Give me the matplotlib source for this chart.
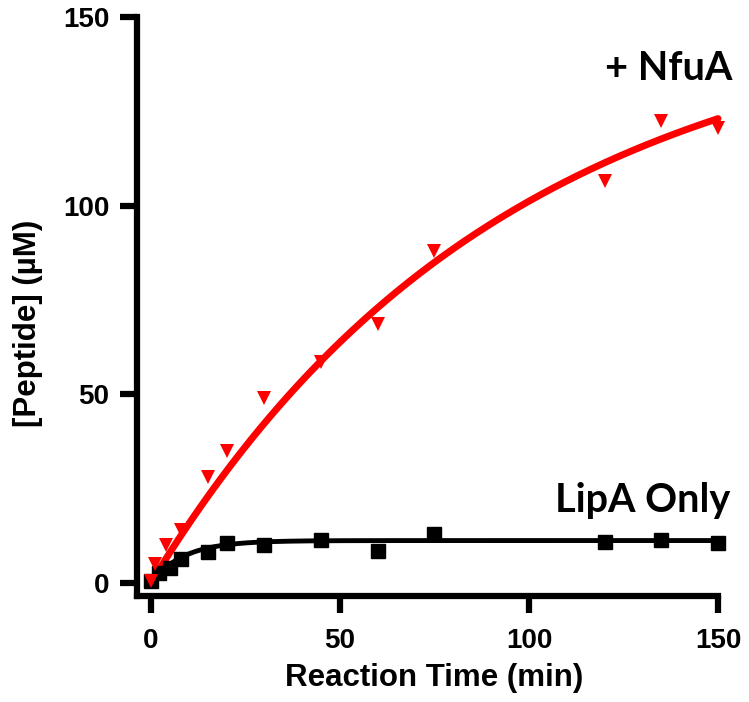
# %% peptide formation: LipA alone vs + NfuA
import numpy as np
import matplotlib
matplotlib.use("Agg")
import matplotlib.pyplot as plt

# %% data
t_nfua = [0, 1, 4, 8, 15, 20, 30, 45, 60, 75, 120, 135, 150]
y_nfua = [0.5, 5, 10, 14, 28, 35, 49, 58.5, 68.5, 88, 106.5, 122.5, 120.5]

t_lipa = [0, 2, 5, 8, 15, 20, 30, 45, 60, 75, 120, 135, 150]
y_lipa = [0.5, 2.6, 4, 6.2, 8.2, 10.5, 10, 11.4, 8.3, 13, 10.7, 11.4, 10.6]

# one-phase association fits as drawn in the figure: (Ymax, k per min)
fit_nfua = (154.0, 0.0107)
fit_lipa = (11.2, 0.115)

x_ticks = [0, 50, 100, 150]
y_ticks = [0, 50, 100, 150]


def assoc(t, ymax, k):  # Y = Ymax * (1 - exp(-k t))
    return ymax * (1 - np.exp(-k * t))


tt = np.linspace(0, 150, 400)

# %% plot
plt.rcParams["font.family"] = ["Liberation Sans", "DejaVu Sans"]
fig = plt.figure(figsize=(7.49, 7.02), dpi=100)
ax = fig.add_axes([137 / 749, 1 - 596 / 702, (718 - 137) / 749, (596 - 17) / 702])

ax.plot(tt, assoc(tt, *fit_nfua), color="#ff0000", lw=5, solid_capstyle="round", clip_on=False, zorder=2)
ax.plot(tt, assoc(tt, *fit_lipa), color="black", lw=3.5, solid_capstyle="round", clip_on=False, zorder=2)
ax.plot(t_lipa, y_lipa, "s", color="black", ms=10, clip_on=False, zorder=3)
ax.plot(t_nfua, y_nfua, "v", color="#ff0000", ms=10, mew=0, clip_on=False, zorder=3)

ax.set_xlim(-3.7, 150)
ax.set_ylim(-3.5, 150)
ax.set_xticks(x_ticks)
ax.set_yticks(y_ticks)

for side in ["top", "right"]:
    ax.spines[side].set_visible(False)
for side in ["left", "bottom"]:
    ax.spines[side].set_linewidth(4.5)
    ax.spines[side].set_capstyle("projecting")

ax.tick_params(axis="both", width=4.5, length=12, labelsize=20)
ax.tick_params(axis="x", pad=11)
ax.tick_params(axis="y", pad=8)
for lbl in ax.get_xticklabels() + ax.get_yticklabels():
    lbl.set_fontweight("bold")

ax.set_xlabel("Reaction Time (min)", fontsize=22.5, fontweight="bold")
ax.set_ylabel("[Peptide] (µM)", fontsize=22.5, fontweight="bold")
ax.xaxis.set_label_coords(0.511, -0.115)
ax.yaxis.set_label_coords(-0.162, 0.47)

ax.text(153.7, 133.3, "+ NfuA", ha="right", va="baseline", fontsize=28.5,
        fontweight="bold", family=["Lato", "DejaVu Sans"])
ax.text(153.2, 18.9, "LipA Only", ha="right", va="baseline", fontsize=28.5,
        fontweight="bold", family=["Lato", "DejaVu Sans"])

fig.savefig("out.png", dpi=100)
